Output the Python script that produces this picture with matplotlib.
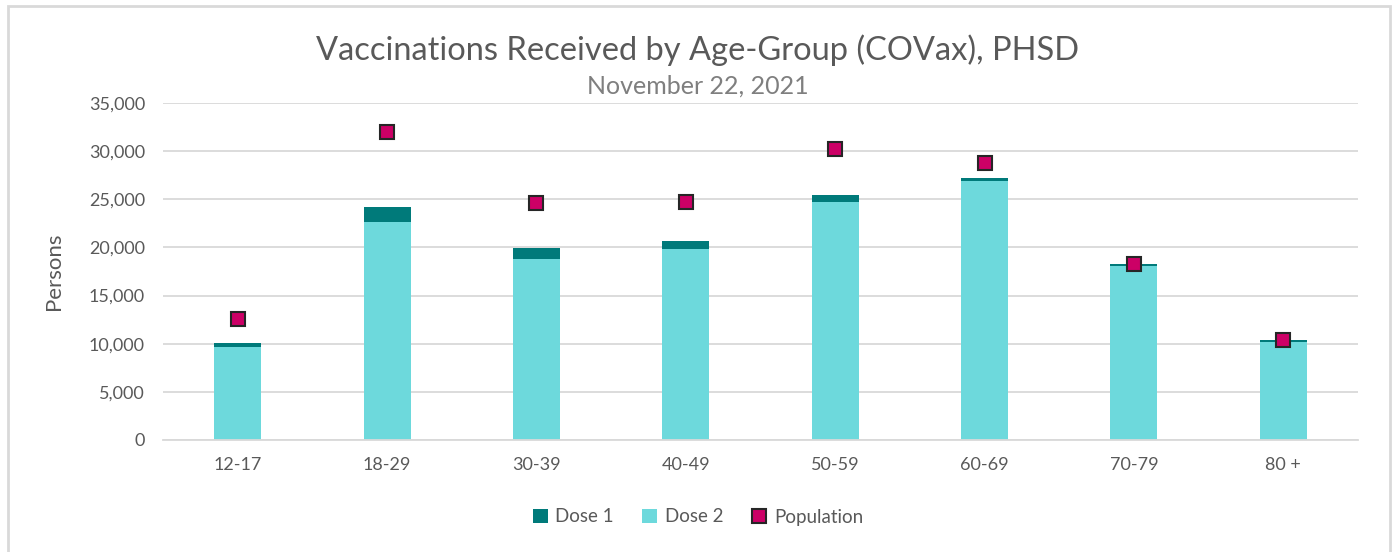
import numpy as np
import matplotlib.pyplot as plt
from matplotlib.patches import Rectangle
from matplotlib.ticker import FuncFormatter

# data
age_groups = ['12-17', '18-29', '30-39', '40-49', '50-59', '60-69', '70-79', '80 +']
dose2 = [9660, 22600, 18770, 19800, 24750, 26850, 18080, 10200]
dose1_total = [10060, 24200, 19970, 20700, 25400, 27200, 18330, 10400]
population = [12530, 32000, 24600, 24700, 30200, 28750, 18330, 10350]

dose1 = [t - d for t, d in zip(dose1_total, dose2)]

plt.rcParams['font.family'] = ['Lato', 'DejaVu Sans']
text_col = '#595959'
grid_col = '#D9D9D9'

fig = plt.figure(figsize=(13.96, 5.52), dpi=100)
ax = fig.add_axes([163 / 1396, 112 / 552, 1195 / 1396, 337 / 552])

x = np.arange(len(age_groups))
w = 0.315
ax.bar(x, dose2, width=w, color='#6DD9DC', label='Dose 2', zorder=2)
ax.bar(x, dose1, width=w, bottom=dose2, color='#007A7A', label='Dose 1', zorder=2)
ax.plot(x, population, linestyle='none', marker='s', markersize=10,
        markerfacecolor='#CC0066', markeredgecolor='#262626', markeredgewidth=1.5,
        label='Population', zorder=3)

ax.set_xlim(-0.5, len(age_groups) - 0.5)
ax.set_ylim(0, 35000)
ax.set_yticks(np.arange(0, 35001, 5000))
ax.yaxis.set_major_formatter(FuncFormatter(lambda v, p: f'{int(v):,}'))
ax.set_xticks(x)
ax.set_xticklabels(age_groups)
ax.tick_params(axis='both', length=0, labelsize=13, colors=text_col)
ax.tick_params(axis='x', pad=12)
ax.tick_params(axis='y', pad=13)
ax.grid(axis='y', color=grid_col, linewidth=1.3, zorder=0)
for s in ['top', 'right', 'left']:
    ax.spines[s].set_visible(False)
ax.spines['bottom'].set_color(grid_col)
ax.spines['bottom'].set_linewidth(1.3)

ax.set_ylabel('Persons', fontsize=16, color=text_col, labelpad=18)

fig.text(0.5, 1 - 50 / 552, 'Vaccinations Received by Age-Group (COVax), PHSD',
         ha='center', va='center', fontsize=23.5, color=text_col)
fig.text(0.5, 1 - 86 / 552, 'November 22, 2021', ha='center', va='center',
         fontsize=18, color='#7F7F7F')

# legend order: Dose 1, Dose 2, Population
h, l = ax.get_legend_handles_labels()
lookup = dict(zip(l, h))
names = ['Dose 1', 'Dose 2', 'Population']
fig.legend([lookup[n] for n in names], names, loc='center',
           bbox_to_anchor=(0.5, 35 / 552), ncol=3, frameon=False,
           fontsize=13.5, labelcolor=text_col, handlelength=0.8,
           handletextpad=0.4, columnspacing=1.5)

# chart border
fig.patches.append(Rectangle((8 / 1396, -0.01), 1382 / 1396, 1 - 6 / 552 + 0.01,
                             transform=fig.transFigure, fill=False,
                             edgecolor=grid_col, linewidth=2))

plt.savefig('out.png', dpi=100)
